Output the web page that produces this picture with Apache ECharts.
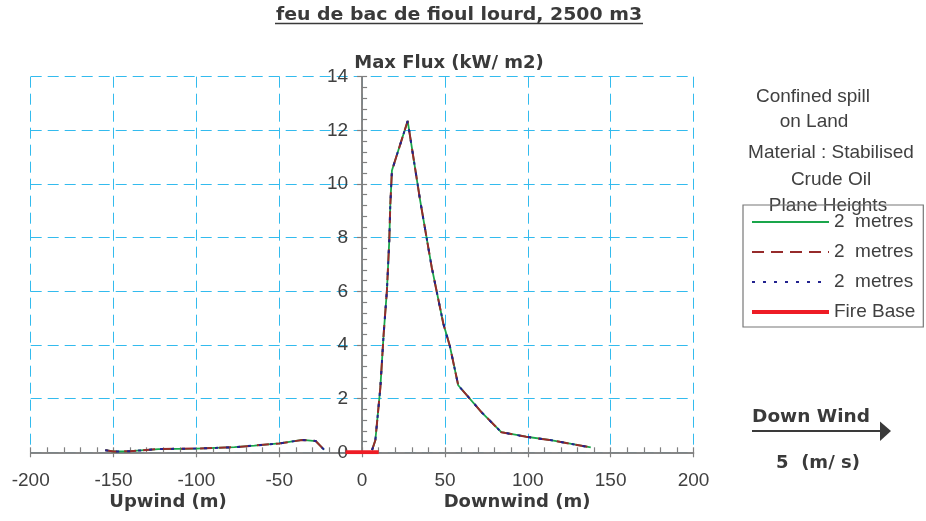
<!DOCTYPE html>
<html>
<head>
<meta charset="utf-8">
<script src="https://cdn.jsdelivr.net/npm/echarts@6/dist/echarts.min.js"></script>
<style>
  html, body { margin: 0; padding: 0; background: #fff; }
  #main { width: 926px; height: 521px; }
</style>
</head>
<body>
<div id="main"></div>
<script>
// distances (m) and max flux (kW/m2)
var upwindX = [-155, -150, -140, -123, -100, -77, -65, -50, -36, -28, -23];
var upwindFlux = [0.08, 0.03, 0.04, 0.12, 0.14, 0.19, 0.25, 0.33, 0.46, 0.42, 0.10];
var downwindX = [6, 8, 11, 13, 15, 16.4, 17, 18, 27.5, 35, 42, 49, 53, 58, 72, 84, 99, 113, 138];
var downwindFlux = [0.08, 0.45, 2.4, 4.4, 6.05, 7.9, 9.2, 10.5, 12.35, 9.4, 6.9, 4.8, 3.95, 2.5, 1.5, 0.75, 0.58, 0.46, 0.18];
var fireBaseX = [-10, 10];
var fireBaseFlux = [0, 0];

var legendLabels = { h2a: '2  metres', h2b: '2  metres', h2c: '2  metres', 'Fire Base': 'Fire Base' };
var noteLines = ['Confined spill', 'on Land', 'Material : Stabilised', 'Crude Oil', 'Plane Heights'];

var axisGray = '#808080';
var gridBlue = '#33bbee';
var textDark = '#3a3a3a';

var gridLeft = 30.7, gridRight = 232.5;
// the y axis stands at x = 0, which is the middle of the -200..200 range
var yAxisShift = -(926 - gridLeft - gridRight) / 2;

function pairs(xs, ys) {
  return xs.map(function (x, i) { return [x, ys[i]]; });
}

// one line, broken between the upwind and downwind parts
var planeData = pairs(upwindX, upwindFlux).concat([[0, '-']], pairs(downwindX, downwindFlux));

function lineSeries(name, data, color, width, dash) {
  return {
    name: name,
    type: 'line',
    data: data,
    symbol: 'none',
    itemStyle: { color: color },
    lineStyle: { color: color, width: width, type: dash || 'solid' }
  };
}

function boldText(txt, x, y, size, scaleX) {
  return {
    type: 'text', x: x, y: y, scaleX: scaleX || 1,
    style: { text: txt, fill: textDark, font: 'bold ' + size + 'px "DejaVu Sans"', align: 'center', verticalAlign: 'middle' }
  };
}

function plainText(txt, x, y) {
  return {
    type: 'text', x: x, y: y,
    style: { text: txt, fill: '#404040', font: '19px "Liberation Sans"', align: 'center', verticalAlign: 'middle' }
  };
}

var chartDom = document.getElementById('main');
var myChart = echarts.init(chartDom);
var option;

option = {
  animation: false,
  grid: { left: gridLeft, right: gridRight, top: 76.7, bottom: 68.7, outerBoundsMode: 'none', containLabel: false },
  legend: {
    orient: 'vertical',
    left: 743, top: 205,
    padding: [7, 8, 5, 7],
    itemWidth: 77, itemHeight: 14, itemGap: 10,
    borderColor: '#777', borderWidth: 1.2,
    selectedMode: false,
    itemStyle: { opacity: 0 },
    lineStyle: { width: 'inherit' },
    data: ['h2a', 'h2b', 'h2c', 'Fire Base'],
    formatter: function (name) { return legendLabels[name]; },
    textStyle: { fontFamily: 'Liberation Sans', fontSize: 19, lineHeight: 20, color: '#404040' }
  },
  xAxis: [{
    type: 'value', min: -200, max: 200, interval: 50, position: 'bottom',
    axisLine: { onZero: false, lineStyle: { color: axisGray, width: 1.5 } },
    axisTick: { inside: true, length: 5, lineStyle: { color: axisGray, width: 1.2 } },
    minorTick: { show: true, splitNumber: 5, length: 5, lineStyle: { color: axisGray, width: 1.2 } },
    axisLabel: { margin: 19, fontFamily: 'Liberation Sans', fontSize: 19, color: '#404040' },
    splitLine: { show: true, lineStyle: { color: gridBlue, width: 1, type: [11, 6] } }
  }, {
    type: 'value', min: -200, max: 200, interval: 50, position: 'bottom',
    axisLine: { onZero: false, lineStyle: { color: axisGray, width: 1.5 } },
    axisTick: { length: 5, lineStyle: { color: axisGray, width: 1.2 } },
    axisLabel: { show: false },
    splitLine: { show: false }
  }],
  yAxis: [{
    type: 'value', min: 0, max: 14, interval: 2, position: 'left', offset: yAxisShift,
    axisLine: { show: true, onZero: false, lineStyle: { color: axisGray, width: 1.5 } },
    axisTick: { inside: true, length: 5, lineStyle: { color: axisGray, width: 1.2 } },
    minorTick: { show: true, splitNumber: 5, length: 5, lineStyle: { color: axisGray, width: 1.2 } },
    axisLabel: { margin: 14, fontFamily: 'Liberation Sans', fontSize: 19, color: '#404040' },
    splitLine: { show: true, lineStyle: { color: gridBlue, width: 1, type: [11, 6] } }
  }, {
    type: 'value', min: 0, max: 14, interval: 2, position: 'left', offset: yAxisShift,
    axisLine: { show: true, onZero: false, lineStyle: { color: axisGray, width: 1.5 } },
    axisTick: { length: 5, lineStyle: { color: axisGray, width: 1.2 } },
    axisLabel: { show: false },
    splitLine: { show: false }
  }],
  series: [
    lineSeries('h2a', planeData, '#1aa64b', 1.8),
    lineSeries('h2b', planeData, '#962b2b', 2, [12, 7]),
    lineSeries('h2c', planeData, '#22228f', 2, [3, 8]),
    lineSeries('Fire Base', pairs(fireBaseX, fireBaseFlux), '#ee1c25', 4)
  ],
  graphic: [
    boldText('feu de bac de fioul lourd, 2500 m3', 459, 15, 18, 1.05),
    { type: 'line', shape: { x1: 275, y1: 23.5, x2: 643, y2: 23.5 }, style: { stroke: textDark, lineWidth: 1.5 } },
    boldText('Max Flux (kW/ m2)', 449, 63, 18),
    boldText('Upwind (m)', 168, 502, 18),
    boldText('Downwind (m)', 517, 502, 18),
    boldText('Down Wind', 811, 417, 18.5),
    { type: 'line', shape: { x1: 752, y1: 431, x2: 881, y2: 431 }, style: { stroke: textDark, lineWidth: 2 } },
    { type: 'polygon', shape: { points: [[880, 421.5], [891, 431], [880, 441]] }, style: { fill: textDark } },
    boldText('5  (m/ s)', 818, 463, 18),
    plainText(noteLines[0], 813, 97),
    plainText(noteLines[1], 814, 121.5),
    plainText(noteLines[2], 831, 153),
    plainText(noteLines[3], 831, 179.5),
    plainText(noteLines[4], 828, 206)
  ]
};

myChart.setOption(option);
</script>
</body>
</html>
